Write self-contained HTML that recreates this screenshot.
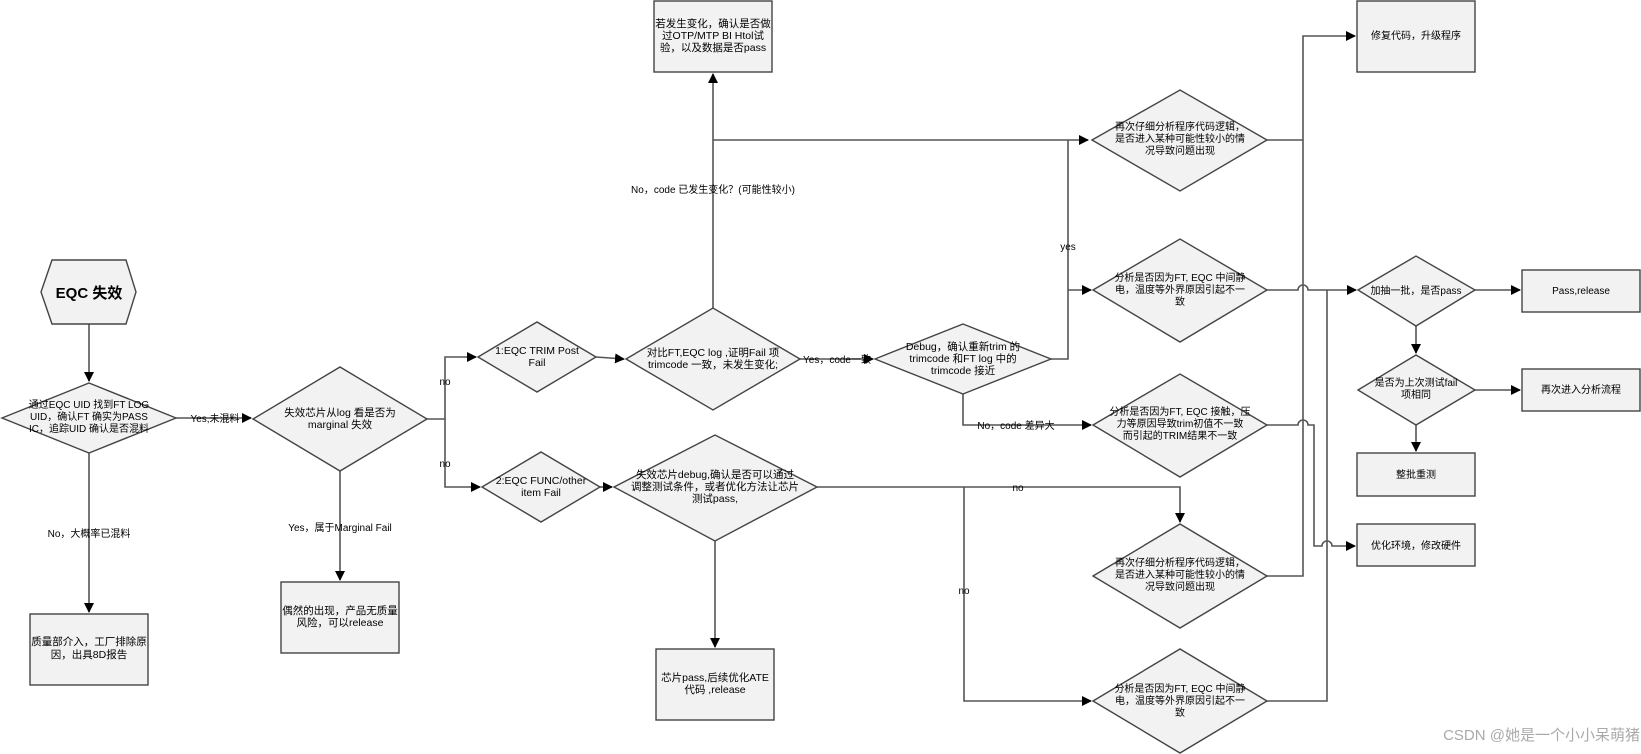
<!DOCTYPE html>
<html><head><meta charset="utf-8"><style>
html,body{margin:0;padding:0;background:#fff;}
svg{display:block;}
text{font-family:"Liberation Sans","Noto Sans CJK SC",sans-serif;font-size:10.5px;fill:#000;}
.n{fill:#f2f2f2;stroke:#444;stroke-width:1.4;}
.c{fill:none;stroke:#555;stroke-width:1.6;}
</style></head><body>
<svg width="1641" height="754" viewBox="0 0 1641 754" xmlns="http://www.w3.org/2000/svg">
<defs><marker id="a" markerWidth="10" markerHeight="10" refX="9" refY="5" orient="auto" markerUnits="userSpaceOnUse"><path d="M0,0 L10,5 L0,10 z" fill="#000"/></marker></defs>

<!-- connectors -->
<path class="c" d="M89 324 V381" marker-end="url(#a)"/>
<path class="c" d="M176 418 H251" marker-end="url(#a)"/>
<path class="c" d="M89 453 V612" marker-end="url(#a)"/>
<path class="c" d="M340 471 V580" marker-end="url(#a)"/>
<path class="c" d="M427 419 H445 V357 H476" marker-end="url(#a)"/>
<path class="c" d="M445 419 V487 H480" marker-end="url(#a)"/>
<path class="c" d="M596 357 L624 359" marker-end="url(#a)"/>
<path class="c" d="M600 487 H612" marker-end="url(#a)"/>
<path class="c" d="M713 308 V74" marker-end="url(#a)"/>
<path class="c" d="M713 140 H1088" marker-end="url(#a)"/>
<path class="c" d="M800 359 H873" marker-end="url(#a)"/>
<path class="c" d="M1051 359 H1068 V140"/>
<path class="c" d="M1068 290 H1091" marker-end="url(#a)"/>
<path class="c" d="M963 394 V425 H1091" marker-end="url(#a)"/>
<path class="c" d="M715 541 V647" marker-end="url(#a)"/>
<path class="c" d="M817 487 H1180 V522" marker-end="url(#a)"/>
<path class="c" d="M964 487 V701 H1091" marker-end="url(#a)"/>
<path class="c" d="M1267 140 H1303"/>
<path class="c" d="M1267 576 H1303 V36 H1355" marker-end="url(#a)"/>
<path class="c" d="M1267 290 H1298 a5 5 0 0 1 10 0 H1356" marker-end="url(#a)"/>
<path class="c" d="M1267 701 H1327 V290"/>
<path class="c" d="M1267 425 H1298 a5 5 0 0 1 10 0 H1314 V546 H1322 a5 5 0 0 1 10 0 H1355" marker-end="url(#a)"/>
<path class="c" d="M1475 290 H1520" marker-end="url(#a)"/>
<path class="c" d="M1416 326 V353" marker-end="url(#a)"/>
<path class="c" d="M1475 390 H1520" marker-end="url(#a)"/>
<path class="c" d="M1416 425 V451" marker-end="url(#a)"/>

<!-- nodes -->
<polygon class="n" points="41,292 52,260 126,260 136,292 126,324 52,324"/>
<text x="89" y="298" text-anchor="middle" style="font-size:15px;font-weight:bold">EQC 失效</text>

<polygon class="n" points="2,418 89,383 176,418 89,453"/>
<text text-anchor="middle" style="font-size:10px"><tspan x="89" y="408">通过EQC UID 找到FT LOG</tspan><tspan x="89" y="420">UID，确认FT 确实为PASS</tspan><tspan x="89" y="432">IC，追踪UID 确认是否混料</tspan></text>

<polygon class="n" points="253,419 340,367 427,419 340,471"/>
<text text-anchor="middle"><tspan x="340" y="416">失效芯片从log 看是否为</tspan><tspan x="340" y="428">marginal 失效</tspan></text>

<rect class="n" x="30" y="614" width="118" height="71"/>
<text text-anchor="middle"><tspan x="89" y="645">质量部介入，工厂排除原</tspan><tspan x="89" y="658">因，出具8D报告</tspan></text>

<rect class="n" x="281" y="582" width="118" height="71"/>
<text text-anchor="middle"><tspan x="340" y="614">偶然的出现，产品无质量</tspan><tspan x="340" y="626">风险，可以release</tspan></text>

<polygon class="n" points="478,357 537,322 596,357 537,392"/>
<text text-anchor="middle"><tspan x="537" y="354">1:EQC TRIM Post</tspan><tspan x="537" y="366">Fail</tspan></text>

<polygon class="n" points="482,487 541,452 600,487 541,522"/>
<text text-anchor="middle"><tspan x="541" y="484">2:EQC FUNC/other</tspan><tspan x="541" y="496">item Fail</tspan></text>

<polygon class="n" points="626,359 713,308 800,359 713,410"/>
<text text-anchor="middle"><tspan x="713" y="356">对比FT,EQC log ,证明Fail 项</tspan><tspan x="713" y="368">trimcode 一致，未发生变化;</tspan></text>

<rect class="n" x="654" y="1" width="118" height="71"/>
<text text-anchor="middle"><tspan x="713" y="27">若发生变化，确认是否做</tspan><tspan x="713" y="39">过OTP/MTP BI Htol试</tspan><tspan x="713" y="51">验，以及数据是否pass</tspan></text>

<polygon class="n" points="875,359 963,324 1051,359 963,394"/>
<text text-anchor="middle"><tspan x="963" y="350">Debug，确认重新trim 的</tspan><tspan x="963" y="362">trimcode 和FT log 中的</tspan><tspan x="963" y="374">trimcode 接近</tspan></text>

<polygon class="n" points="614,487 715,435 817,487 715,541"/>
<text text-anchor="middle"><tspan x="715" y="478">失效芯片debug,确认是否可以通过</tspan><tspan x="715" y="490">调整测试条件，或者优化方法让芯片</tspan><tspan x="715" y="502">测试pass,</tspan></text>

<rect class="n" x="656" y="649" width="118" height="71"/>
<text text-anchor="middle"><tspan x="715" y="681">芯片pass,后续优化ATE</tspan><tspan x="715" y="693">代码 ,release</tspan></text>

<polygon class="n" points="1092,140 1180,90 1267,140 1180,191"/>
<text text-anchor="middle" style="font-size:10px"><tspan x="1180" y="130">再次仔细分析程序代码逻辑，</tspan><tspan x="1180" y="142">是否进入某种可能性较小的情</tspan><tspan x="1180" y="154">况导致问题出现</tspan></text>

<polygon class="n" points="1093,290 1180,239 1267,290 1180,342"/>
<text text-anchor="middle" style="font-size:10px"><tspan x="1180" y="281">分析是否因为FT, EQC 中间静</tspan><tspan x="1180" y="293">电，温度等外界原因引起不一</tspan><tspan x="1180" y="305">致</tspan></text>

<polygon class="n" points="1093,425 1180,374 1267,425 1180,477"/>
<text text-anchor="middle" style="font-size:10px"><tspan x="1180" y="415">分析是否因为FT, EQC 接触，压</tspan><tspan x="1180" y="427">力等原因导致trim初值不一致</tspan><tspan x="1180" y="439">而引起的TRIM结果不一致</tspan></text>

<polygon class="n" points="1093,576 1180,524 1267,576 1180,628"/>
<text text-anchor="middle" style="font-size:10px"><tspan x="1180" y="566">再次仔细分析程序代码逻辑，</tspan><tspan x="1180" y="578">是否进入某种可能性较小的情</tspan><tspan x="1180" y="590">况导致问题出现</tspan></text>

<polygon class="n" points="1093,701 1180,649 1267,701 1180,753"/>
<text text-anchor="middle" style="font-size:10px"><tspan x="1180" y="692">分析是否因为FT, EQC 中间静</tspan><tspan x="1180" y="704">电，温度等外界原因引起不一</tspan><tspan x="1180" y="716">致</tspan></text>

<rect class="n" x="1357" y="1" width="118" height="71"/>
<text x="1416" y="39" text-anchor="middle" style="font-size:10px">修复代码，升级程序</text>

<polygon class="n" points="1358,290 1416,256 1475,290 1416,326"/>
<text x="1416" y="294" text-anchor="middle" style="font-size:10px">加抽一批，是否pass</text>

<rect class="n" x="1522" y="270" width="118" height="42"/>
<text x="1581" y="294" text-anchor="middle" style="font-size:10px">Pass,release</text>

<polygon class="n" points="1358,390 1416,355 1475,390 1416,425"/>
<text text-anchor="middle" style="font-size:10px"><tspan x="1416" y="386">是否为上次测试fail</tspan><tspan x="1416" y="398">项相同</tspan></text>

<rect class="n" x="1522" y="369" width="118" height="42"/>
<text x="1581" y="393" text-anchor="middle" style="font-size:10px">再次进入分析流程</text>

<rect class="n" x="1357" y="453" width="118" height="43"/>
<text x="1416" y="478" text-anchor="middle" style="font-size:10px">整批重测</text>

<rect class="n" x="1357" y="524" width="118" height="42"/>
<text x="1416" y="549" text-anchor="middle" style="font-size:10px">优化环境，修改硬件</text>

<!-- labels -->
<text x="215" y="422" text-anchor="middle" style="font-size:10px">Yes,未混料</text>
<text x="89" y="537" text-anchor="middle" style="font-size:10px">No，大概率已混料</text>
<text x="340" y="531" text-anchor="middle" style="font-size:10px">Yes，属于Marginal Fail</text>
<text x="445" y="385" text-anchor="middle" style="font-size:10px">no</text>
<text x="445" y="467" text-anchor="middle" style="font-size:10px">no</text>
<text x="713" y="193" text-anchor="middle" style="font-size:10px">No，code 已发生变化？(可能性较小)</text>
<text x="837" y="363" text-anchor="middle" style="font-size:10px">Yes，code一致</text>
<text x="1068" y="250" text-anchor="middle" style="font-size:10px">yes</text>
<text x="1016" y="429" text-anchor="middle" style="font-size:10px">No，code 差异大</text>
<text x="1018" y="491" text-anchor="middle" style="font-size:10px">no</text>
<text x="964" y="594" text-anchor="middle" style="font-size:10px">no</text>
<text x="1640" y="740" text-anchor="end" style="font-size:15px;fill:#aaa">CSDN @她是一个小小呆萌猪</text>
</svg>
</body></html>
